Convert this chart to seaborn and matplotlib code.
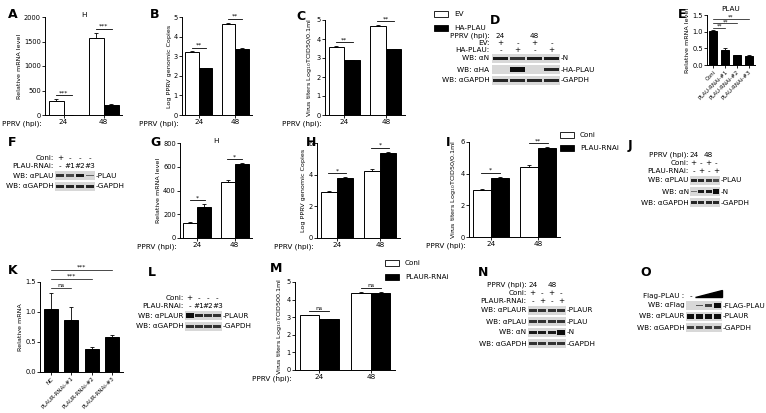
import matplotlib
matplotlib.use("Agg")
import matplotlib.pyplot as plt
import seaborn as sns
import pandas as pd
import numpy as np

W, H = 766, 413
hpi = ["24", "48"]
# Panel A
A_ev = [280, 1580]; A_ev_err = [40, 100]
A_ha = [5, 210]; A_ha_err = [2, 10]
# Panel B
B_ev = [3.2, 4.65]; B_ev_err = [0.04, 0.05]
B_ha = [2.4, 3.35]; B_ha_err = [0.02, 0.06]
# Panel C
C_ev = [3.6, 4.7]; C_ev_err = [0.03, 0.03]
C_ha = [2.9, 3.45]; C_ha_err = [0.02, 0.04]
# Panel E
E_cats = ["Coni", "PLAU-RNAi-#1", "PLAU-RNAi-#2", "PLAU-RNAi-#3"]
E_vals = [1.02, 0.46, 0.29, 0.28]; E_err = [0.03, 0.04, 0.01, 0.01]
# Panel G
G_coni = [130, 470]; G_coni_err = [5, 20]
G_rnai = [265, 620]; G_rnai_err = [20, 10]
# Panel H
H_coni = [2.9, 4.25]; H_coni_err = [0.05, 0.12]
H_rnai = [3.8, 5.4]; H_rnai_err = [0.05, 0.05]
# Panel I
I_coni = [3.0, 4.45]; I_coni_err = [0.05, 0.08]
I_rnai = [3.75, 5.65]; I_rnai_err = [0.06, 0.04]
# Panel K
K_cats = ["NC", "PLAUR-RNAi-#1", "PLAUR-RNAi-#2", "PLAUR-RNAi-#3"]
K_vals = [1.05, 0.86, 0.39, 0.59]; K_err = [0.27, 0.23, 0.03, 0.02]
# Panel M
M_coni = [3.1, 4.4]; M_coni_err = [0.04, 0.04]
M_rnai = [2.9, 4.35]; M_rnai_err = [0.02, 0.1]

plt.rcParams["font.family"] = "DejaVu Sans"
FS = 5.2
fig = plt.figure(figsize=(W/100, H/100), dpi=100)
fig.patch.set_facecolor("white")

def ax_px(x0, y0, x1, y1):
    return fig.add_axes([x0/W, 1-y1/H, (x1-x0)/W, (y1-y0)/H])

def style(ax, ylim, ylabel, yticks):
    ax.set_ylim(*ylim); ax.set_yticks(yticks)
    ax.set_ylabel(ylabel, fontsize=4.6, labelpad=1.5)
    ax.tick_params(labelsize=4.8, length=2, width=0.6, pad=1)
    for s in ["top", "right"]:
        ax.spines[s].set_visible(False)
    for s in ["left", "bottom"]:
        ax.spines[s].set_linewidth(0.7)
    ax.set_xlabel("")

def grouped(ax, a, ae, b, be, names, ylim, ylabel, yticks, stars=None):
    df = pd.DataFrame({"hpi": hpi*2, "g": [names[0]]*2+[names[1]]*2, "v": a+b})
    sns.barplot(data=df, x="hpi", y="v", hue="g", palette=["white", "black"],
                edgecolor="black", linewidth=0.7, ax=ax, errorbar=None, width=0.75, legend=False)
    errs = ae + be
    for p, e, v in zip(ax.patches, errs, a+b):
        cx = p.get_x()+p.get_width()/2
        ax.errorbar(cx, v, yerr=[[0], [e]], color="black", capsize=1.5, lw=0.6, capthick=0.6)
    style(ax, ylim, ylabel, yticks)
    ax.annotate("PPRV (hpi):", xy=(0, 0), xycoords="axes fraction", xytext=(-2, -4),
                textcoords="offset points", fontsize=FS, ha="right", va="top")
    ax.set_xticks([0, 1]); ax.set_xticklabels(hpi, fontsize=FS)
    if stars:
        for i, s in enumerate(stars):
            top = max(a[i]+ae[i], b[i]+be[i]) + (ylim[1]*0.04)
            ax.plot([i-0.2, i+0.2], [top, top], color="black", lw=0.6)
            ax.text(i, top, s, fontsize=4.5, ha="center", va="bottom")

def single(ax, cats, vals, err, ylim, ylabel, yticks, colors):
    df = pd.DataFrame({"c": cats, "v": vals})
    sns.barplot(data=df, x="c", y="v", hue="c", palette=colors, edgecolor="black",
                linewidth=0.7, ax=ax, errorbar=None, width=0.7, legend=False)
    for p, e, v in zip(ax.patches, err, vals):
        ax.errorbar(p.get_x()+p.get_width()/2, v, yerr=[[0], [e]], color="black",
                    capsize=1.5, lw=0.6, capthick=0.6)
    style(ax, ylim, ylabel, yticks)
    ax.set_xticks(range(len(cats)))
    ax.set_xticklabels(cats, rotation=45, ha="right", fontsize=4.0, rotation_mode="anchor")

def label(x, y, t):
    fig.text(x/W, 1-y/H, t, fontsize=9, fontweight="bold", ha="left", va="center")

def legend(x, y, names, gap=14):
    for i, (n, c) in enumerate(zip(names, ["white", "black"])):
        yy = y + i*gap
        fig.patches.append(matplotlib.patches.Rectangle(((x)/W, 1-(yy+3)/H), 14/W, 6/H,
                           transform=fig.transFigure, facecolor=c, edgecolor="black", lw=0.6))
        fig.text((x+20)/W, 1-yy/H, n, fontsize=FS, va="center")

def blot(x0, y0, x1, rows, lanes, top=None, tstep=0.75):
    ax = ax_px(x0, y0, x1, y0 + 11*len(rows))
    ax.set_xlim(0, lanes); ax.set_ylim(len(rows), 0); ax.axis("off")
    for r, (ll, rl, ints) in enumerate(rows):
        ax.add_patch(matplotlib.patches.Rectangle((0, r+0.05), lanes, 0.9, facecolor="#d8d8d8", lw=0))
        for k, it in enumerate(ints):
            if it > 0:
                ax.add_patch(matplotlib.patches.Rectangle((k+0.08, r+0.5-0.2*it), 0.84, 0.4*it,
                             facecolor=str(0.55-0.5*it), lw=0))
        ax.text(-0.15, r+0.5, ll, fontsize=FS, ha="right", va="center")
        ax.text(lanes+0.05, r+0.5, rl, fontsize=FS, ha="left", va="center")
    if top:
        for i, (lab, vals) in enumerate(top):
            yy = -tstep*(len(top)-i)
            ax.text(-0.15, yy+0.4, lab, fontsize=FS, ha="right", va="center", clip_on=False)
            for k, v in enumerate(vals):
                ax.text(k+0.5, yy+0.4, v, fontsize=FS, ha="center", va="center", clip_on=False)
    return ax

# Row 1
axA = ax_px(45, 17, 122, 115)
grouped(axA, A_ev, A_ev_err, A_ha, A_ha_err, ["EV", "HA-PLAU"], (0, 2000), "Relative mRNA level",
        [0, 500, 1000, 1500, 2000], ["***", "***"])
axA.text(0.5, 1.0, "H", transform=axA.transAxes, fontsize=FS, ha="center")
axB = ax_px(182, 17, 252, 115)
grouped(axB, B_ev, B_ev_err, B_ha, B_ha_err, ["EV", "HA-PLAU"], (0, 5), "Log PPRV genomic Copies",
        range(6), ["**", "**"])
axC = ax_px(325, 20, 405, 115)
grouped(axC, C_ev, C_ev_err, C_ha, C_ha_err, ["EV", "HA-PLAU"], (0, 5), "Virus titers Log$_{10}$TCID50/0.1ml",
        range(6), ["**", "**"])
legend(434, 14, ["EV", "HA-PLAU"])
axE = ax_px(707, 15, 755, 65)
single(axE, E_cats, E_vals, E_err, (0, 1.5), "Relative mRNA level", [0, 0.5, 1.0, 1.5], ["black"]*4)
axE.set_title("PLAU", fontsize=FS, pad=3)
for i, yy in zip([1, 2, 3], [1.12, 1.25, 1.38]):
    axE.plot([0, i], [yy, yy], color="black", lw=0.5, clip_on=False)
    axE.text(i/2, yy, "**", fontsize=4, ha="center")
blot(492, 53, 560, [("WB: αN", "-N", [0.9, 0.7, 0.9, 0.9]), ("WB: αHA", "-HA-PLAU", [0, 1, 0, 0.8]),
                    ("WB: αGAPDH", "-GAPDH", [0.8, 0.8, 0.8, 0.8])], 4,
     top=[("PPRV (hpi):", ["24", "", "48", ""]), ("EV:", ["+", "-", "+", "-"]), ("HA-PLAU:", ["-", "+", "-", "+"])],
     tstep=0.65)

# Row 2
blot(55, 170, 95, [("WB: αPLAU", "-PLAU", [0.7, 0.5, 0.9, 0.3]), ("WB: αGAPDH", "-GAPDH", [0.8, 0.8, 0.8, 0.8])], 4,
     top=[("Coni:", ["+", "-", "-", "-"]), ("PLAU-RNAi:", ["-", "#1", "#2", "#3"])])
axG = ax_px(180, 143, 252, 238)
grouped(axG, G_coni, G_coni_err, G_rnai, G_rnai_err, ["Coni", "PLAU-RNAi"], (0, 800), "Relative mRNA level",
        range(0, 801, 200), ["*", "*"])
axG.text(0.5, 1.0, "H", transform=axG.transAxes, fontsize=FS, ha="center")
axH = ax_px(317, 143, 400, 238)
grouped(axH, H_coni, H_coni_err, H_rnai, H_rnai_err, ["Coni", "PLAU-RNAi"], (0, 6), "Log PPRV genomic Copies",
        [0, 2, 4, 6], ["*", "*"])
axI = ax_px(469, 142, 560, 237)
grouped(axI, I_coni, I_coni_err, I_rnai, I_rnai_err, ["Coni", "PLAU-RNAi"], (0, 6), "Virus titers Log$_{10}$TCID50/0.1ml",
        [0, 2, 4, 6], ["*", "**"])
legend(560, 135, ["Coni", "PLAU-RNAi"], gap=13)
blot(690, 175, 720, [("WB: αPLAU", "-PLAU", [0.8, 0.8, 0.7, 0.5]), ("WB: αN", "-N", [0.2, 0.9, 0.9, 1.0]),
                     ("WB: αGAPDH", "-GAPDH", [0.8, 0.8, 0.8, 0.8])], 4,
     top=[("PPRV (hpi):", ["24", "", "48", ""]), ("Coni:", ["+", "-", "+", "-"]), ("PLAU-RNAi:", ["-", "+", "-", "+"])])

# Row 3
axK = ax_px(40, 282, 123, 372)
single(axK, K_cats, K_vals, K_err, (0, 1.5), "Relative mRNA", [0, 0.5, 1.0, 1.5], ["black"]*4)
for i, yy in zip([1, 2, 3], [1.4, 1.55, 1.7]):
    axK.plot([0, i], [yy, yy], color="black", lw=0.5, clip_on=False)
    axK.text(i/2, yy, "ns" if i == 1 else "***", fontsize=4.5, ha="center", va="bottom")
blot(185, 310, 222, [("WB: αPLAUR", "-PLAUR", [1, 0.8, 0.7, 0.7]), ("WB: αGAPDH", "-GAPDH", [0.7, 0.7, 0.7, 0.7])], 4,
     top=[("Coni:", ["+", "-", "-", "-"]), ("PLAU-RNAi:", ["-", "#1", "#2", "#3"])])
axM = ax_px(295, 282, 395, 370)
grouped(axM, M_coni, M_coni_err, M_rnai, M_rnai_err, ["Coni", "PLAUR-RNAi"], (0, 5), "Virus titers Log$_{10}$TCID500.1ml",
        range(6), ["ns", "ns"])
legend(385, 263, ["Coni", "PLAUR-RNAi"], gap=14)
blot(528, 305, 566, [("WB: αPLAUR", "-PLAUR", [0.7, 0.7, 0.7, 0.7]), ("WB: αPLAU", "-PLAU", [0.7, 0.7, 0.7, 0.7]),
                     ("WB: αN", "-N", [0.9, 0.9, 0.9, 1.0]), ("WB: αGAPDH", "-GAPDH", [0.7, 0.7, 0.7, 0.7])], 4,
     top=[("PPRV (hpi):", ["24", "", "48", ""]), ("Coni:", ["+", "-", "+", "-"]), ("PLAUR-RNAi:", ["-", "+", "-", "+"])])
axO = blot(686, 300, 722, [("WB: αFlag", "-FLAG-PLAU", [0, 0.4, 0.6, 1.0]), ("WB: αPLAUR", "-PLAUR", [1, 1, 1, 1]),
                           ("WB: αGAPDH", "-GAPDH", [0.6, 0.6, 0.6, 0.6])], 4,
           top=[("Flag-PLAU :", ["-", "", "", ""])])
axO.fill([1, 4, 4], [-0.3, -0.3, -0.95], color="black", clip_on=False)

for x, y, t in [(8, 15, "A"), (150, 15, "B"), (296, 17, "C"), (490, 20, "D"), (678, 15, "E"),
                (8, 143, "F"), (150, 143, "G"), (306, 143, "H"), (446, 143, "I"), (628, 145, "J"),
                (8, 270, "K"), (148, 272, "L"), (270, 268, "M"), (478, 272, "N"), (640, 273, "O")]:
    label(x, y, t)

fig.savefig("out.png", dpi=100, facecolor="white")
